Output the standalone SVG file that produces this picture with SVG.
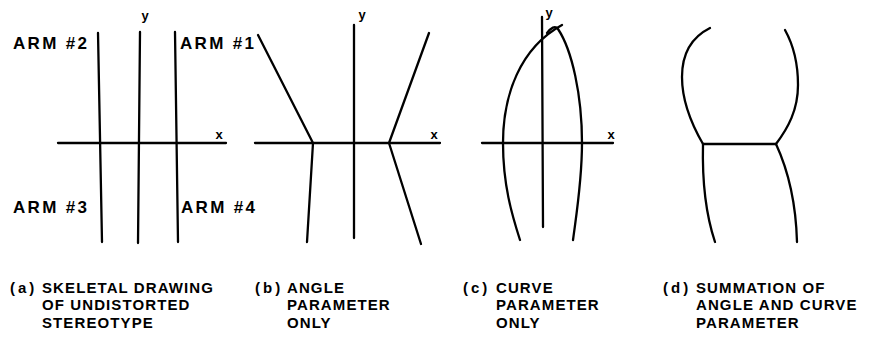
<svg xmlns="http://www.w3.org/2000/svg" width="876" height="341" viewBox="0 0 876 341">
<style>
  .ln { fill: none; stroke: #000; stroke-width: 2.3; stroke-linecap: round; stroke-linejoin: round; }
  .arm { font-family: "Liberation Sans", Arial, sans-serif; font-weight: bold; font-size: 17px; letter-spacing: 2.3px; fill: #000; }
  .ax { font-family: "Liberation Sans", Arial, sans-serif; font-weight: bold; font-size: 13px; fill: #000; }
  .cap { font-family: "Liberation Sans", Arial, sans-serif; font-weight: bold; font-size: 15px; letter-spacing: 1.1px; fill: #000; }
  .lbl { letter-spacing: 3px; }
</style>
<rect width="876" height="341" fill="#fff"/>

<g id="panel-a">
  <line class="ln" x1="58" y1="143" x2="226" y2="143"/>
  <line class="ln" x1="98" y1="33" x2="102" y2="242"/>
  <line class="ln" x1="140" y1="32" x2="138" y2="243"/>
  <line class="ln" x1="175" y1="32" x2="178" y2="242"/>
  <text class="ax" x="145" y="20" text-anchor="middle">y</text>
  <text class="ax" x="219" y="139" text-anchor="middle">x</text>
  <text class="arm" x="13" y="49">ARM #2</text>
  <text class="arm" x="180" y="49">ARM #1</text>
  <text class="arm" x="13" y="213">ARM #3</text>
  <text class="arm" x="181" y="213">ARM #4</text>
</g>

<g id="panel-b">
  <line class="ln" x1="255" y1="143" x2="440" y2="143"/>
  <line class="ln" x1="354" y1="25" x2="354" y2="238"/>
  <polyline class="ln" points="258,35 313,143 307,242"/>
  <polyline class="ln" points="429,33 389,143 421,244"/>
  <text class="ax" x="362" y="19" text-anchor="middle">y</text>
  <text class="ax" x="434" y="139" text-anchor="middle">x</text>
</g>

<g id="panel-c">
  <line class="ln" x1="482" y1="143" x2="613" y2="143"/>
  <line class="ln" x1="542" y1="17" x2="543" y2="227"/>
  <path class="ln" d="M562,25 C520,48 503,95 503,143 C503,185 512,215 520,240"/>
  <path class="ln" d="M547,33 C551,28 555,25 558,29 C572,50 582,95 582,143 C582,180 577,210 573,240"/>
  <text class="ax" x="549" y="17" text-anchor="middle">y</text>
  <text class="ax" x="611" y="139" text-anchor="middle">x</text>
</g>

<g id="panel-d">
  <path class="ln" d="M710,28 C690,38 682,55 682,77 C682,100 692,125 703,144"/>
  <path class="ln" d="M785,30 C795,48 798,65 798,85 C798,110 788,128 776,144"/>
  <line class="ln" x1="703" y1="144" x2="776" y2="144"/>
  <path class="ln" d="M703,144 C702,185 706,215 715,242"/>
  <path class="ln" d="M776,144 C788,170 796,205 797,242"/>
</g>

<g id="caption-a">
  <text class="cap"><tspan class="lbl" x="10" y="292.5">(a)</tspan><tspan x="42" y="292.5">SKELETAL DRAWING</tspan><tspan x="42" y="310">OF UNDISTORTED</tspan><tspan x="42" y="327.5">STEREOTYPE</tspan></text>
</g>
<g id="caption-b">
  <text class="cap"><tspan class="lbl" x="255" y="292.5">(b)</tspan><tspan x="287" y="292.5">ANGLE</tspan><tspan x="287" y="310">PARAMETER</tspan><tspan x="287" y="327.5">ONLY</tspan></text>
</g>
<g id="caption-c">
  <text class="cap"><tspan class="lbl" x="463" y="292.5">(c)</tspan><tspan x="496" y="292.5">CURVE</tspan><tspan x="496" y="310">PARAMETER</tspan><tspan x="496" y="327.5">ONLY</tspan></text>
</g>
<g id="caption-d">
  <text class="cap"><tspan class="lbl" x="663" y="292.5">(d)</tspan><tspan x="696" y="292.5">SUMMATION OF</tspan><tspan x="696" y="310">ANGLE AND CURVE</tspan><tspan x="696" y="327.5">PARAMETER</tspan></text>
</g>
</svg>
